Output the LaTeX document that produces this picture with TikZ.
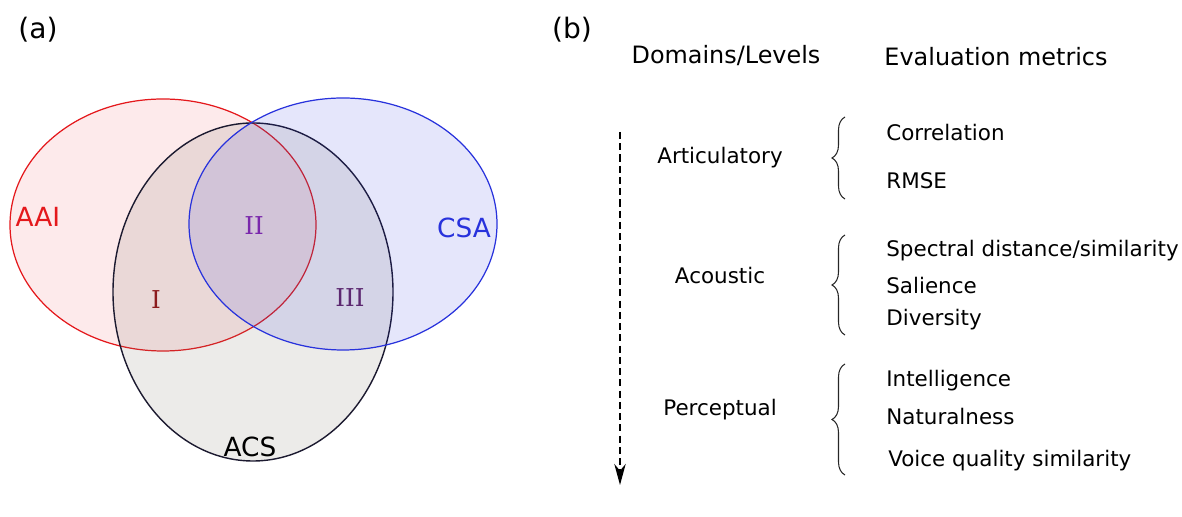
\documentclass[tikz,border=0pt]{standalone}
\usepackage{fontspec}
\setmainfont{DejaVu Sans}
\newfontfamily\romanfont{DejaVu Serif}
\usetikzlibrary{positioning}
\usetikzlibrary{decorations.pathreplacing}
\usetikzlibrary{arrows.meta}
\definecolor{aaired}{RGB}{228,24,28}
\definecolor{csablue}{RGB}{40,50,220}
\definecolor{acsline}{RGB}{28,26,48}
\definecolor{acsfill}{RGB}{120,110,100}
\definecolor{oneclr}{RGB}{140,28,30}
\definecolor{twoclr}{RGB}{122,40,172}
\definecolor{threeclr}{RGB}{92,40,112}

\tikzset{
 setname/.style={font=\fontsize{15}{17}\selectfont, inner sep=0pt},
 region/.style={font=\romanfont\fontsize{14}{16}\selectfont, inner sep=0pt},
 panel/.style={font=\fontsize{16}{18}\selectfont, inner sep=0pt},
 level/.style={font=\fontsize{12.2}{14}\selectfont, inner sep=0pt, text height=0.75em, text depth=0.22em},
 heading/.style={level, font=\fontsize{13.6}{16}\selectfont},
 metric/.style={level, anchor=west},
 curly/.style={decorate, decoration={brace, amplitude=0.26cm}, line width=0.6pt, black!85}
}

\begin{document}
\begin{tikzpicture}

\useasboundingbox (0,0) rectangle (23.64,10.34);

% (a) venn diagram
\node[panel] (pa) at (0.76,9.74) {(a)};

\filldraw[aaired, line width=0.7pt, fill=aaired, fill opacity=0.09] (3.26,5.84) ellipse [x radius=3.06, y radius=2.52];
\filldraw[acsline, line width=0.8pt, fill=acsfill, fill opacity=0.14] (5.06,4.50) ellipse [x radius=2.80, y radius=3.38];
\filldraw[csablue, line width=0.7pt, fill=csablue, fill opacity=0.12] (6.86,5.86) ellipse [x radius=3.08, y radius=2.52];

\node[setname, aaired] (aai) at (0.76,6.00) {AAI};
\node[setname, csablue] (csa) at (9.28,5.78) {CSA};
\node[setname, black] (acs) at (5.00,1.40) {ACS};

\node[region, oneclr] (r1) at (3.12,4.34) {I};
\node[region, twoclr] (r2) at (5.08,5.82) {II};
\node[region, threeclr] (r3) at (7.00,4.38) {III};

% (b) levels and metrics
\node[panel] (pb) at (11.44,9.74) {(b)};

\node[heading] (dom) at (14.52,9.16) {Domains/Levels};
\node[heading] (eval) at (19.92,9.12) {Evaluation metrics};

\coordinate (arrtop) at (12.40,7.70);
\coordinate (arrbot) at (12.40,0.64);
\draw[line width=1.1pt, dash pattern=on 4pt off 2.4pt, -{Stealth[length=12pt, width=6.5pt]}] (arrtop) -- (arrbot);

\node[level] (art) at (14.40,7.16) {Articulatory};
\node[level] (aco) at (14.40,4.76) {Acoustic};
\node[level] (per) at (14.40,2.12) {Perceptual};

\draw[curly] (16.90,6.36) -- (16.90,8.00);
\draw[curly] (16.90,3.64) -- (16.90,5.64);
\draw[curly] (16.90,0.84) -- (16.90,3.06);

\node[metric] (corr) at (17.72,7.62) {Correlation};
\node[metric] (rmse) at (17.72,6.66) {RMSE};

\node[metric] (spec) at (17.72,5.30) {Spectral distance/similarity};
\node[metric] (sal) at (17.72,4.56) {Salience};
\node[metric] (div) at (17.72,3.92) {Diversity};

\node[metric] (intl) at (17.72,2.70) {Intelligence};
\node[metric] (nat) at (17.72,1.94) {Naturalness};
\node[metric] (vqs) at (17.76,1.10) {Voice quality similarity};

\end{tikzpicture}
\end{document}
